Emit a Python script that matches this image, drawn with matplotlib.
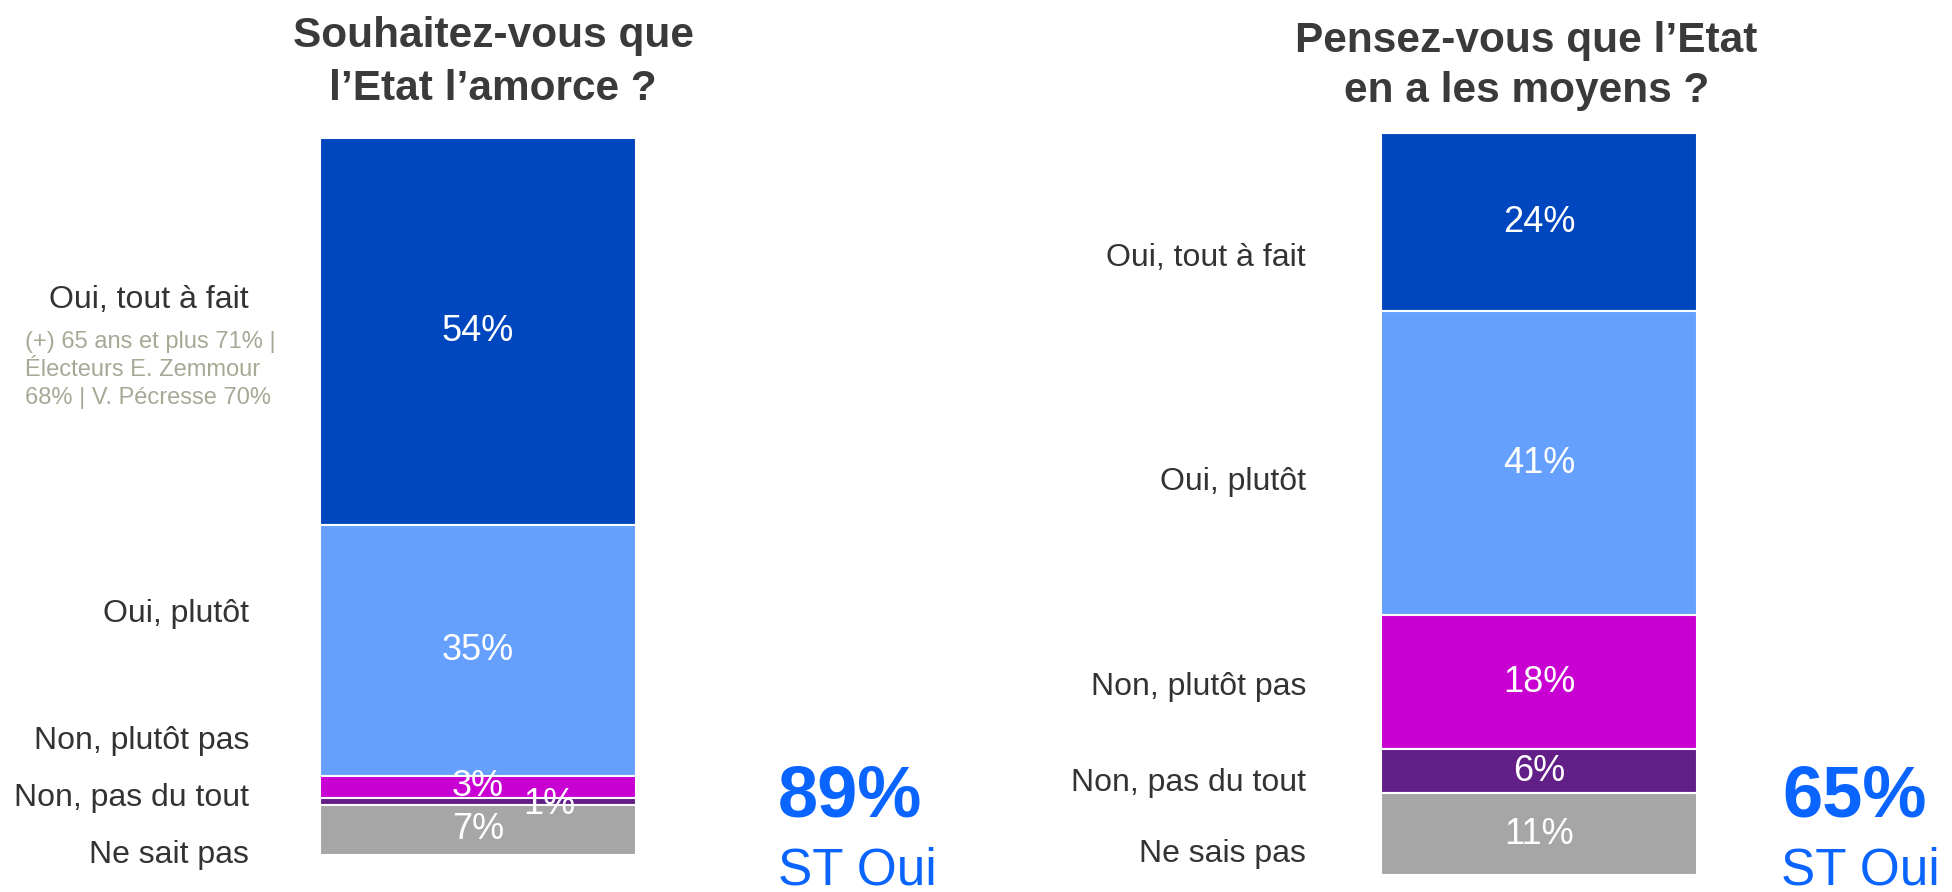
import matplotlib.pyplot as plt
from matplotlib.transforms import blended_transform_factory

plt.rcParams['font.family'] = ['Liberation Sans', 'DejaVu Sans']

# --- data ---
left_title = "Souhaitez-vous que\nl’Etat l’amorce ?"
left_labels = ["Oui, tout à fait", "Oui, plutôt", "Non, plutôt pas", "Non, pas du tout", "Ne sait pas"]
left_values = [54, 35, 3, 1, 7]
left_note = "(+) 65 ans et plus 71% |\nÉlecteurs E. Zemmour\n68% | V. Pécresse 70%"

right_title = "Pensez-vous que l’Etat\nen a les moyens ?"
right_labels = ["Oui, tout à fait", "Oui, plutôt", "Non, plutôt pas", "Non, pas du tout", "Ne sais pas"]
right_values = [24, 41, 18, 6, 11]

colors = ['#0047BF', '#65A0FF', '#C800D2', '#621F88', '#A6A6A6']
title_col = '#3A3A3A'
label_col = '#333333'
big_col = '#0A64FF'

# layout (label positions in % units from the top of each bar)
left_label_y = [22.6, 66.4, 84.1, 92.0, 100.0]
right_label_y = [16.8, 47.0, 74.7, 87.6, 97.2]

W, H = 1952, 892
fig = plt.figure(figsize=(W / 100, H / 100), dpi=100)


def make_bar(px_left, px_top, px_w, px_bottom, values, labels, label_y, label_x):
    ax = fig.add_axes([px_left / W, 1 - px_bottom / H, px_w / W, (px_bottom - px_top) / H])
    bottom = 0
    for i, v in enumerate(values):
        ax.bar(0, v, bottom=bottom, width=1, color=colors[i], edgecolor='white', linewidth=1.5)
        cx = 0
        cy = bottom + v / 2
        if v < 2:
            cx = 0.225
            cy += 0.4
        ax.text(cx, cy, f"{v}%", ha='center', va='center', color='white', fontsize=26)
        bottom += v
    ax.set_xlim(-0.5, 0.5)
    ax.set_ylim(sum(values), 0)
    ax.axis('off')
    tr = blended_transform_factory(ax.transAxes, ax.transData)
    for lab, y in zip(labels, label_y):
        ax.text(label_x, y, lab, transform=tr, ha='right', va='center', color=label_col, fontsize=23)
    return ax, tr


axl, trl = make_bar(320, 138, 316, 855, left_values, left_labels, left_label_y, -0.225)
axl.text(-0.934, 32.4, left_note, transform=trl, ha='left', va='center', color='#A8A896',
         fontsize=17, linespacing=1.35)

axr, trr = make_bar(1381, 133, 316, 875, right_values, right_labels, right_label_y, -0.237)

fig.text(0.2526, 0.9295, left_title, ha='center', va='center', fontsize=30.5, fontweight='bold',
         color=title_col, linespacing=1.42)
fig.text(0.782, 0.926, right_title, ha='center', va='center', fontsize=30.5, fontweight='bold',
         color=title_col, linespacing=1.35)

st_left = left_values[0] + left_values[1]
st_right = right_values[0] + right_values[1]
fig.text(0.4355, 0.1065, f"{st_left}%", ha='center', va='center', fontsize=52, fontweight='bold', color=big_col)
fig.text(0.439, 0.0235, "ST Oui", ha='center', va='center', fontsize=37, color=big_col)
fig.text(0.950, 0.1065, f"{st_right}%", ha='center', va='center', fontsize=52, fontweight='bold', color=big_col)
fig.text(0.953, 0.0235, "ST Oui", ha='center', va='center', fontsize=37, color=big_col)

fig.savefig("out.png", dpi=100, facecolor='white')
